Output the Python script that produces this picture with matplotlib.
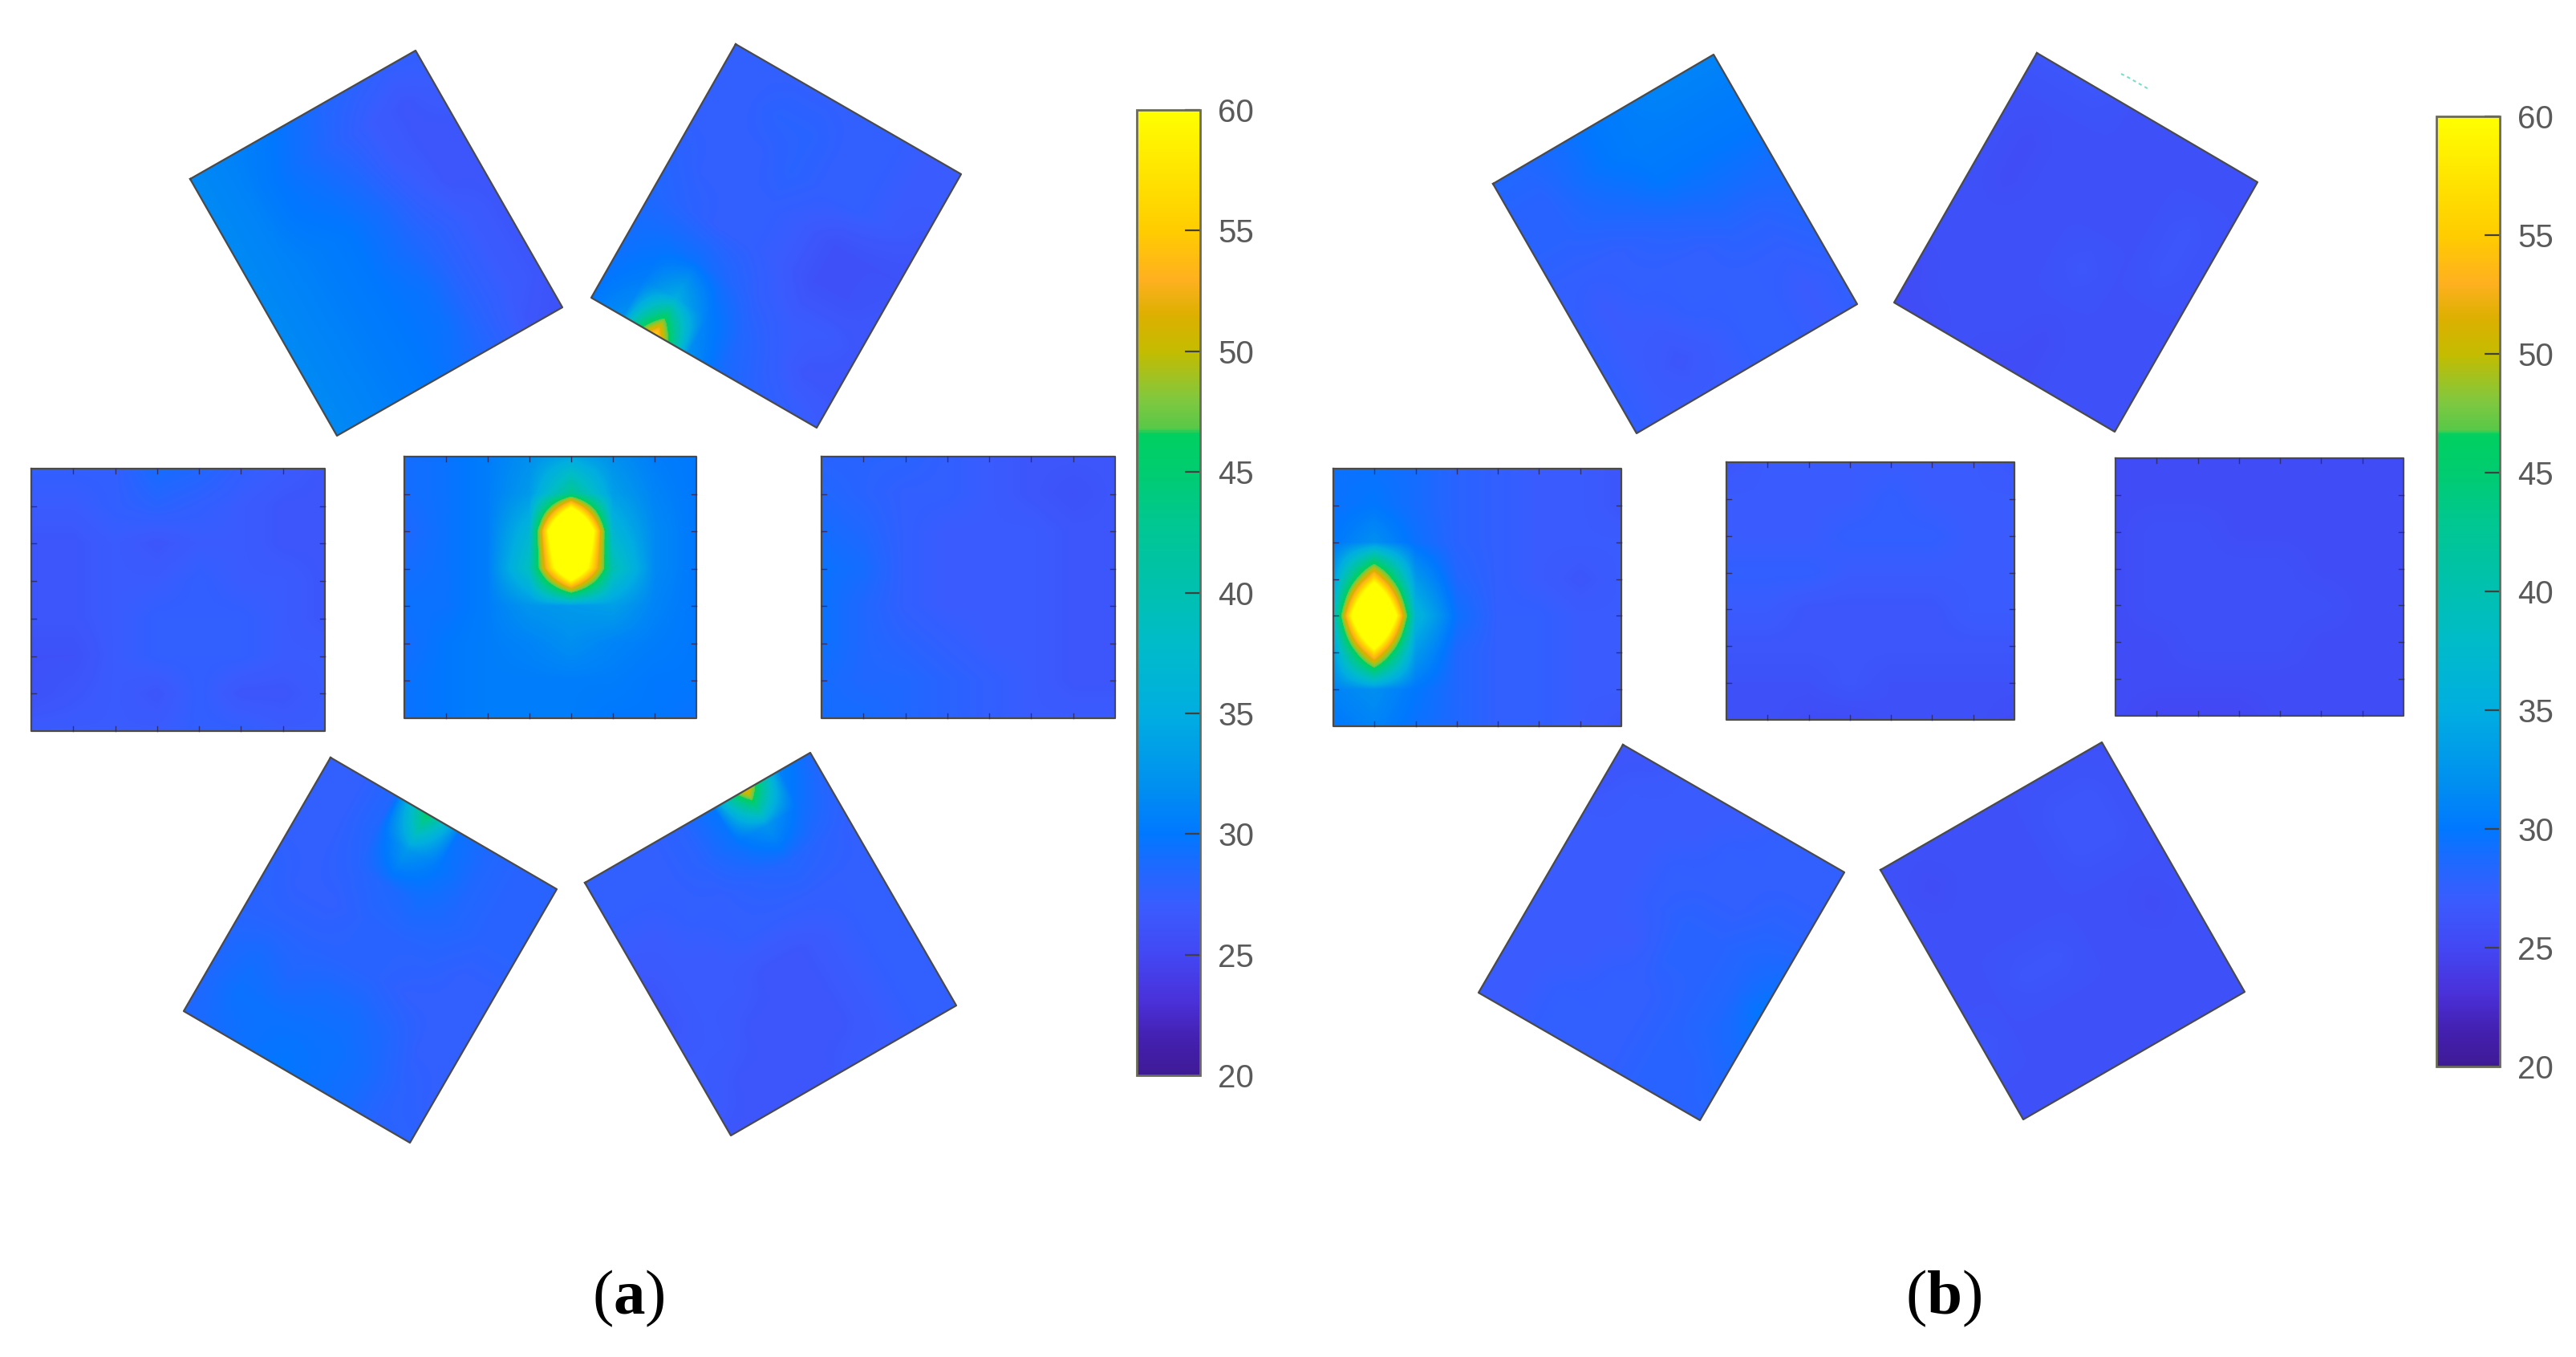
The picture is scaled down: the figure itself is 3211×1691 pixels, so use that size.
import matplotlib
matplotlib.use("Agg")
import matplotlib.pyplot as plt
import numpy as np
from matplotlib.cm import ScalarMappable
from matplotlib.colors import LinearSegmentedColormap, Normalize
from matplotlib.patches import Polygon
from matplotlib.transforms import Affine2D

# colour scale
cb_levels = [20, 21.5, 23, 25, 27, 28.5, 30, 32, 35, 38, 40, 43, 45, 46.6, 46.8, 48, 50, 51.5, 53, 55, 57, 60]
cb_colors = ["#3f1a96", "#4320b0", "#4a30d8", "#4248f4", "#3a5cff", "#2068ff", "#0078ff", "#0090f0",
             "#00aee0", "#00bcc8", "#00c0b0", "#00c890", "#00cc70", "#00d060", "#58c848", "#80c840",
             "#c4bc00", "#dcb000", "#ffb020", "#ffcc00", "#ffe000", "#ffff00"]
cb_ticks = [20, 25, 30, 35, 40, 45, 50, 55, 60]

# temperature grids, one per thermal image, rows and columns in the panel's own frame
a_top_left = [[31.5, 31.0, 30.5, 29.5, 28.5, 28.0, 27.5, 27.5],
              [31.5, 31.0, 30.0, 29.0, 28.0, 27.0, 26.5, 27.0],
              [31.5, 31.0, 30.0, 29.5, 28.5, 27.0, 26.5, 26.5],
              [31.5, 31.0, 30.5, 30.0, 29.0, 27.5, 26.5, 26.5],
              [31.5, 31.0, 30.5, 30.0, 29.0, 28.0, 27.0, 26.5],
              [31.5, 31.0, 30.5, 30.0, 29.5, 28.0, 27.0, 26.5],
              [31.5, 31.0, 30.5, 30.0, 29.5, 28.0, 27.0, 26.5],
              [31.5, 31.0, 30.5, 30.0, 29.0, 28.0, 26.5, 26.0]]
a_top_right = [[27.5, 27.5, 27.5, 27.5, 27.5, 27.5, 27.0, 27.0],
               [27.5, 27.5, 28.0, 28.0, 27.5, 27.5, 27.0, 27.0],
               [27.5, 27.5, 27.5, 28.0, 27.5, 27.5, 27.0, 26.5],
               [28.0, 27.5, 27.5, 27.5, 27.0, 26.0, 26.0, 26.0],
               [28.5, 28.0, 27.5, 27.5, 27.0, 26.0, 26.0, 26.5],
               [29.0, 29.5, 29.5, 28.5, 27.5, 27.0, 27.0, 26.5],
               [29.5, 30.5, 35.0, 30.5, 28.5, 27.5, 26.5, 26.5],
               [30.0, 32.0, 56.0, 32.0, 29.0, 28.0, 27.5, 27.0]]
a_left = [[27.5, 27.5, 27.5, 29.0, 28.5, 27.5, 27.0, 26.5],
          [27.0, 27.0, 27.5, 28.0, 27.5, 27.0, 26.5, 26.5],
          [26.5, 26.5, 27.0, 26.5, 27.0, 27.0, 26.5, 26.5],
          [26.5, 26.5, 27.0, 27.0, 27.5, 27.0, 27.0, 26.5],
          [26.5, 26.5, 27.0, 27.5, 27.5, 27.5, 27.0, 26.5],
          [26.0, 26.0, 27.0, 27.5, 27.5, 27.5, 27.0, 27.0],
          [26.0, 26.5, 27.0, 26.5, 27.5, 26.5, 26.5, 27.0],
          [27.0, 27.0, 27.0, 27.0, 27.5, 27.5, 27.0, 27.0]]
a_centre = [[29.0, 29.5, 30.5, 32.0, 34.0, 32.0, 30.5, 30.0],
            [29.0, 29.5, 30.5, 33.0, 43.0, 33.5, 31.0, 30.0],
            [28.5, 29.5, 30.5, 36.5, 88.0, 36.5, 31.5, 30.0],
            [29.0, 29.5, 30.5, 39.0, 73.0, 40.0, 31.5, 30.0],
            [29.5, 29.5, 30.5, 32.5, 33.0, 33.5, 31.0, 30.0],
            [29.0, 30.0, 30.5, 31.0, 32.0, 31.0, 30.5, 30.0],
            [29.5, 30.0, 30.5, 30.5, 30.5, 30.5, 30.0, 30.0],
            [29.5, 30.0, 30.5, 30.5, 30.5, 30.0, 30.0, 29.5]]
a_right = [[28.0, 28.0, 28.0, 27.5, 27.0, 26.5, 26.5, 26.5],
           [28.5, 28.0, 27.5, 27.5, 27.0, 26.5, 26.0, 26.5],
           [29.0, 28.5, 27.5, 27.0, 27.0, 27.0, 26.5, 26.5],
           [29.5, 29.0, 27.5, 27.0, 27.0, 27.0, 26.5, 26.5],
           [29.5, 28.5, 27.5, 27.0, 27.0, 27.0, 26.5, 26.5],
           [29.5, 28.5, 28.0, 27.5, 27.0, 27.0, 26.5, 26.5],
           [29.0, 28.5, 28.5, 28.0, 27.5, 27.0, 26.5, 26.5],
           [29.0, 29.0, 28.5, 28.0, 27.5, 27.0, 27.0, 27.0]]
a_bottom_left = [[27.5, 27.5, 28.5, 46.0, 29.5, 28.5, 28.0, 28.0],
                 [27.5, 27.5, 28.5, 33.0, 30.0, 28.5, 28.0, 28.0],
                 [27.5, 27.5, 28.0, 28.5, 29.0, 28.5, 28.0, 28.0],
                 [28.0, 27.5, 27.5, 28.0, 28.0, 28.0, 27.5, 27.5],
                 [28.0, 28.0, 28.0, 28.0, 28.0, 27.5, 27.5, 27.5],
                 [28.5, 29.0, 28.5, 29.0, 29.0, 28.5, 27.5, 27.5],
                 [28.5, 29.5, 29.5, 29.5, 29.5, 29.0, 28.0, 27.5],
                 [28.5, 29.0, 29.5, 30.0, 29.5, 29.0, 28.0, 28.0]]
a_bottom_right = [[27.5, 27.5, 27.5, 28.0, 30.0, 53.0, 31.0, 28.5],
                  [27.5, 27.5, 27.5, 28.0, 29.5, 32.5, 29.5, 28.0],
                  [27.0, 27.0, 27.5, 27.5, 28.0, 28.5, 28.0, 27.5],
                  [26.5, 27.0, 27.0, 27.5, 27.5, 27.5, 27.5, 27.5],
                  [26.5, 27.0, 27.0, 26.5, 26.5, 27.0, 27.5, 27.5],
                  [27.0, 27.0, 26.5, 26.5, 26.5, 27.0, 27.5, 27.5],
                  [27.0, 26.5, 26.5, 26.5, 26.5, 27.0, 27.5, 27.5],
                  [26.5, 26.5, 26.5, 26.5, 27.0, 27.0, 27.5, 27.5]]
b_top_left = [[28.5, 28.5, 29.0, 30.0, 30.5, 31.0, 31.0, 31.0],
              [28.0, 28.0, 29.0, 30.0, 30.5, 30.5, 30.5, 30.5],
              [28.0, 28.0, 28.5, 29.0, 30.0, 30.0, 30.0, 30.0],
              [27.5, 27.5, 27.5, 28.0, 28.5, 29.0, 29.0, 29.0],
              [27.5, 27.0, 27.5, 27.5, 27.5, 28.0, 28.0, 28.5],
              [27.5, 27.0, 27.0, 27.5, 27.5, 27.5, 27.5, 28.0],
              [27.5, 27.0, 26.5, 27.0, 27.5, 27.5, 27.0, 27.5],
              [27.5, 27.0, 27.0, 27.0, 27.5, 27.5, 27.0, 27.5]]
b_top_right = [[26.5, 26.5, 26.5, 26.0, 26.0, 26.0, 26.0, 26.0],
               [26.0, 26.0, 26.0, 26.0, 26.0, 26.0, 26.0, 26.0],
               [26.0, 25.5, 26.0, 26.0, 26.0, 26.0, 26.5, 26.0],
               [26.0, 25.5, 26.0, 26.0, 26.0, 26.0, 26.5, 26.0],
               [26.0, 26.0, 26.0, 26.0, 26.5, 26.0, 26.0, 26.0],
               [26.0, 26.0, 26.0, 26.0, 26.0, 26.0, 26.0, 26.0],
               [25.5, 26.0, 26.0, 26.0, 25.5, 26.0, 26.0, 26.0],
               [25.5, 25.5, 26.0, 25.5, 25.5, 26.0, 26.0, 26.0]]
b_left = [[29.5, 29.5, 29.0, 28.0, 27.5, 27.0, 27.0, 26.5],
          [29.5, 30.0, 29.0, 28.0, 27.5, 27.0, 27.0, 26.5],
          [30.0, 32.0, 29.5, 28.0, 27.5, 27.0, 27.0, 27.0],
          [33.0, 57.0, 33.0, 28.5, 27.5, 27.0, 26.5, 27.0],
          [36.5, 88.0, 36.5, 29.5, 27.5, 27.5, 27.0, 27.0],
          [33.0, 57.0, 33.0, 28.5, 27.5, 27.5, 27.0, 27.0],
          [31.0, 32.0, 30.0, 28.5, 27.5, 27.5, 27.0, 27.0],
          [30.0, 31.0, 29.5, 28.5, 27.5, 27.5, 27.0, 26.5]]
b_centre = [[26.5, 27.0, 27.0, 27.0, 27.0, 27.0, 27.0, 26.5],
            [27.0, 27.0, 27.0, 27.0, 27.5, 27.0, 27.0, 27.0],
            [27.0, 27.0, 27.0, 27.5, 27.5, 27.5, 27.0, 27.0],
            [27.5, 27.5, 27.5, 27.0, 27.0, 27.0, 27.0, 27.0],
            [27.0, 27.0, 26.5, 26.5, 26.5, 26.5, 27.0, 27.0],
            [26.5, 26.5, 26.5, 26.5, 26.5, 26.5, 26.5, 26.5],
            [26.0, 26.0, 26.0, 26.5, 26.0, 26.0, 26.0, 26.0],
            [26.0, 26.0, 25.5, 25.5, 26.0, 26.0, 26.0, 25.5]]
b_right = [[25.5, 25.5, 25.5, 25.5, 25.5, 25.5, 25.5, 25.5],
           [25.5, 25.5, 25.5, 25.5, 25.5, 25.5, 25.5, 25.5],
           [25.5, 26.0, 26.0, 25.5, 25.5, 25.5, 25.5, 25.5],
           [25.5, 26.0, 26.0, 26.0, 26.0, 25.5, 25.5, 25.5],
           [25.5, 26.0, 26.0, 26.0, 26.0, 26.0, 25.5, 25.5],
           [25.5, 25.5, 26.0, 26.0, 26.0, 25.5, 25.5, 25.5],
           [25.5, 25.5, 25.5, 25.5, 25.5, 25.5, 25.5, 25.5],
           [25.5, 25.0, 25.0, 25.0, 25.5, 25.5, 25.5, 25.5]]
b_bottom_left = [[26.5, 26.5, 27.0, 27.0, 27.0, 27.5, 27.5, 27.5],
                 [26.5, 27.0, 27.0, 27.0, 27.5, 27.5, 27.5, 27.5],
                 [27.0, 27.0, 27.0, 27.5, 27.5, 27.5, 28.0, 28.0],
                 [27.0, 27.0, 27.0, 27.5, 28.0, 28.0, 28.5, 29.0],
                 [27.0, 27.0, 27.0, 27.0, 28.0, 28.0, 28.5, 30.0],
                 [27.0, 27.0, 27.0, 27.5, 27.5, 28.0, 28.5, 29.0],
                 [27.0, 27.0, 27.5, 27.5, 27.5, 28.0, 28.0, 28.5],
                 [27.0, 27.0, 27.5, 27.5, 27.5, 28.0, 28.0, 28.0]]
b_bottom_right = [[26.0, 26.0, 26.0, 26.0, 26.0, 26.0, 26.0, 26.0],
                  [26.0, 25.5, 26.0, 26.0, 26.0, 26.5, 26.5, 26.0],
                  [26.0, 26.0, 26.0, 26.0, 26.0, 26.5, 26.5, 26.0],
                  [26.0, 26.0, 26.0, 26.0, 26.0, 26.0, 26.0, 26.0],
                  [26.0, 26.0, 26.5, 26.5, 26.0, 26.0, 25.5, 26.0],
                  [26.5, 26.0, 26.0, 26.0, 26.0, 26.0, 26.0, 26.0],
                  [26.0, 26.0, 26.0, 26.0, 26.0, 26.0, 26.0, 26.0],
                  [26.0, 26.0, 26.0, 26.0, 26.0, 26.0, 26.0, 26.0]]

# where each image sits on the page: first row/col corner, end of first row, end of first col (pixels)
panels = [
    (a_top_left, (237, 223), (518, 63), (420, 543), False),
    (a_top_right, (917, 55), (1198, 217), (737, 371), False),
    (a_left, (39, 584), (405, 584), (39, 911), True),
    (a_centre, (504, 569), (868, 569), (504, 895), True),
    (a_right, (1024, 569), (1390, 569), (1024, 895), True),
    (a_bottom_left, (412, 944), (694, 1108), (229, 1260), False),
    (a_bottom_right, (729, 1100), (1010, 938), (911, 1415), False),
    (b_top_left, (1861, 229), (2136, 68), (2040, 540), False),
    (b_top_right, (2539, 66), (2814, 227), (2361, 377), False),
    (b_left, (1662, 584), (2021, 584), (1662, 905), True),
    (b_centre, (2152, 576), (2511, 576), (2152, 897), True),
    (b_right, (2637, 571), (2996, 571), (2637, 892), True),
    (b_bottom_left, (2023, 928), (2299, 1087), (1843, 1237), False),
    (b_bottom_right, (2344, 1084), (2620, 925), (2522, 1395), False),
]

cmap = LinearSegmentedColormap.from_list(
    "thermal", [((v - 20) / 40, c) for v, c in zip(cb_levels, cb_colors)], N=512)
norm = Normalize(vmin=20, vmax=60)

W, H = 3211, 1691
fig = plt.figure(figsize=(W / 100, H / 100), dpi=100)
ax = fig.add_axes([0, 0, 1, 1])
ax.axis("off")

for vals, p0, p1, p2, show_ticks in panels:
    vals = np.array(vals)
    p0, p1, p2 = np.array(p0), np.array(p1), np.array(p2)
    n = vals.shape[0]
    h = 0.5 / (n - 1)
    frame = Affine2D.from_values(*(p1 - p0), *(p2 - p0), *p0) + ax.transData
    # bilinear on the values, not the colours, so the hot spots get their orange ring
    im = ax.imshow(vals, cmap=cmap, norm=norm, extent=(-h, 1 + h, 1 + h, -h), origin="upper",
                   interpolation="bilinear", interpolation_stage="data", aspect="auto", transform=frame)
    im.set_clip_path(Polygon([(0, 0), (1, 0), (1, 1), (0, 1)], transform=frame))
    ax.plot([0, 1, 1, 0, 0], [0, 0, 1, 1, 0], color="#4a4a4a", lw=1.6, transform=frame)
    if show_ticks:
        # small inward ticks on the upright images
        tx = 6 / np.linalg.norm(p1 - p0)
        ty = 6 / np.linalg.norm(p2 - p0)
        for t in np.linspace(0, 1, n)[1:-1]:
            ax.plot([t, t], [0, ty], color="#30306a", lw=1, transform=frame)
            ax.plot([t, t], [1 - ty, 1], color="#30306a", lw=1, transform=frame)
            ax.plot([0, tx], [t, t], color="#30306a", lw=1, transform=frame)
            ax.plot([1 - tx, 1], [t, t], color="#30306a", lw=1, transform=frame)

# stray speck above the second image of (b)
ax.plot([2644, 2652, 2680], [92, 96, 112], color="#7fdcc8", lw=1.5, ls=(0, (2, 2)))

ax.set_xlim(0, W)
ax.set_ylim(H, 0)

for x0, x1, y0, y1 in [(1417, 1496, 137, 1340), (3037, 3116, 145, 1329)]:
    cax = fig.add_axes([x0 / W, 1 - y1 / H, (x1 - x0) / W, (y1 - y0) / H])
    cb = fig.colorbar(ScalarMappable(norm=norm, cmap=cmap), cax=cax, ticks=cb_ticks)
    cb.outline.set_edgecolor("#6a6a5a")
    cb.outline.set_linewidth(2)
    cax.tick_params(direction="in", length=14, width=1.6, color="#404040", pad=16,
                    labelsize=29, labelcolor="#5a5a5a")
    for lab in cax.get_yticklabels():
        lab.set_fontfamily("Liberation Sans")

plt.rcParams["mathtext.fontset"] = "custom"
plt.rcParams["mathtext.bf"] = "Liberation Serif:bold"
for x, lab in [(783, "a"), (2423, "b")]:
    ax.text(x, 1618, "(" + r"$\mathbf{" + lab + "}$" + ")", ha="center", va="center",
            fontsize=57, family="Liberation Serif", color="black")

fig.savefig("out.png", dpi=100)
